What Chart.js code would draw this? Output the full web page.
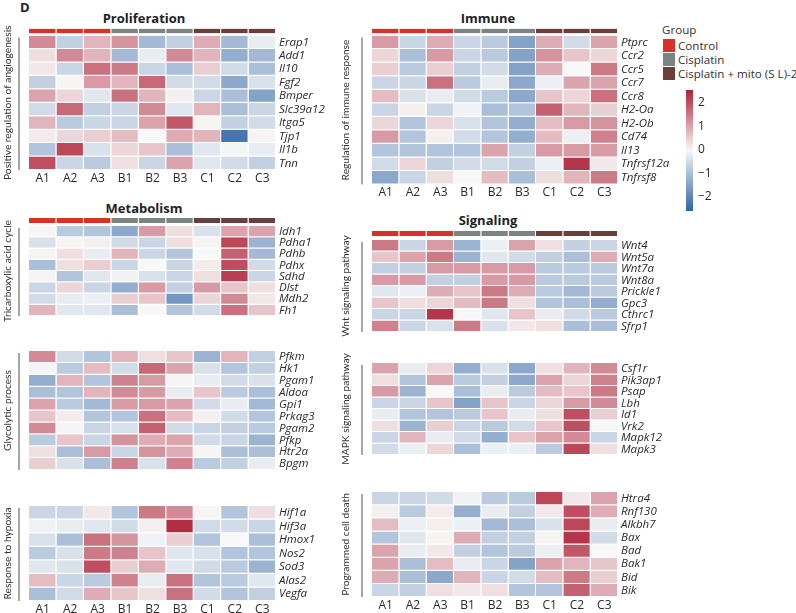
<!DOCTYPE html>
<html>
<head>
<meta charset="utf-8">
<script src="https://cdn.jsdelivr.net/npm/chart.js@4.4.1/dist/chart.umd.min.js"></script>
<style>
  html, body { margin: 0; padding: 0; background: #fff; }
  #fig { position: relative; width: 796px; height: 613px; overflow: hidden; font-family: "Open Sans", sans-serif; color: #222; }
  #fig canvas { position: absolute; left: 0; top: 0; }
  .t { position: absolute; white-space: nowrap; line-height: 1; }
  .title { font-weight: 700; font-size: 13px; transform: translate(-50%, -50%); }
  .leg { font-size: 11.6px; color: #333; }
  .sq { position: absolute; width: 12px; height: 13px; }
</style>
</head>
<body>
<div id="fig">
  <div class="t" style="left:20px;top:1px;font-weight:700;font-size:13px;">D</div>
  <div class="t title" style="left:144px;top:18px;">Proliferation</div>
  <div class="t title" style="left:488px;top:18px;">Immune</div>
  <div class="t title" style="left:144px;top:208px;">Metabolism</div>
  <div class="t title" style="left:488px;top:220px;">Signaling</div>
  <div id="legend"></div>
</div>
<script>
// ── Data ──
const samples = ['A1', 'A2', 'A3', 'B1', 'B2', 'B3', 'C1', 'C2', 'C3'];
const groupNames = ['Control', 'Cisplatin', 'Cisplatin + mito (S L)-2'];
const sampleGroup = [0, 0, 0, 1, 1, 1, 2, 2, 2];
const groupColors = ['#d8312b', '#7c8482', '#6a3f3a'];
const zMin = -2.6, zMax = 2.55;
const barTicks = [-2, -1, 0, 1, 2];

const prolifGenes = ['Erap1', 'Add1', 'Il10', 'Fgf2', 'Bmper', 'Slc39a12', 'Itga5', 'Tjp1', 'Il1b', 'Tnn'];
const prolifZ = [
  [1.3, -0.7, 0.8, 1.2, -1.1, -0.7, 0.9, -1.1, -0.2],
  [0.3, 1.3, 0.8, -1.1, -0.2, 1.3, 0.8, -1.3, -1.1],
  [0.2, -0.6, 1.6, 1.5, -0.6, -1.0, 0.5, -0.5, -1.0],
  [-0.7, 0.05, 1.1, 0.8, 1.7, -0.5, -0.5, -1.4, -0.4],
  [1.0, 0.4, -0.3, 1.6, 0.8, 0.1, -0.6, -1.0, -1.5],
  [-0.5, 1.7, -0.7, -0.6, 1.3, -0.3, 0.8, -1.0, -0.6],
  [0.8, -0.8, -0.6, -0.6, 1.0, 1.9, 0.05, -0.7, -0.5],
  [0.15, 0.4, 0.5, 0.7, 0.0, 0.9, 0.8, -2.3, 0.05],
  [-0.9, 2.1, -0.4, 0.4, 0.6, -1.0, -0.3, -0.05, -0.2],
  [2.0, -0.6, -0.8, 0.3, -0.6, 1.0, -0.3, -0.5, -0.7],
];

const immuneGenes = ['Ptprc', 'Ccr2', 'Ccr5', 'Ccr7', 'Ccr8', 'H2-Oa', 'H2-Ob', 'Cd74', 'Il13', 'Tnfrsf12a', 'Tnfrsf8'];
const immuneZ = [
  [1.1, -0.6, 0.9, -0.6, -0.8, -1.5, 0.9, -0.5, 1.0],
  [0.4, -1.0, 1.1, -0.6, -0.8, -1.5, 1.2, 0.6, 0.4],
  [0.5, -0.8, 0.5, -0.7, -0.5, -1.5, 0.9, 0.0, 1.5],
  [-0.6, -0.6, 1.6, -0.8, -0.2, -1.4, -0.15, 1.0, 1.0],
  [0.7, -0.4, -0.2, -0.5, -0.8, -1.4, 0.6, 0.4, 1.6],
  [-0.6, 0.1, -0.6, -0.1, -1.0, -0.9, 1.8, 0.8, 0.5],
  [0.4, -0.9, 0.4, -0.4, -0.9, -1.3, 0.7, 1.1, 1.2],
  [1.1, -0.9, 0.1, -0.5, -0.9, -1.3, 0.7, -0.15, 1.4],
  [-0.9, -0.9, -0.9, -0.9, 1.0, -0.7, 1.1, 1.1, 1.1],
  [-0.5, 0.4, -0.7, -0.5, -0.5, -0.7, -0.15, 2.3, 0.2],
  [-1.4, -0.6, 0.3, 0.0, 0.7, -1.0, 0.3, 0.8, 1.5],
];

const tcaGenes = ['Idh1', 'Pdha1', 'Pdhb', 'Pdhx', 'Sdhd', 'Dlst', 'Mdh2', 'Fh1'];
const tcaZ = [
  [0.05, -0.8, -0.9, -1.4, 1.1, 0.3, -0.4, 1.0, 1.0],
  [-0.4, 0.05, 0.1, -0.5, -0.6, 0.3, 0.05, 2.1, -1.2],
  [0.05, 0.3, -0.2, 0.8, -0.6, -0.9, 0.0, 1.8, -1.1],
  [-1.0, 0.3, 0.5, -0.6, 0.0, -0.6, 0.15, 2.0, -0.5],
  [0.05, -0.9, -0.3, -0.1, -0.4, -0.6, 0.3, 2.2, -0.6],
  [-0.6, 0.4, -0.6, -1.3, 1.1, -0.7, 1.1, 0.6, 0.3],
  [-0.5, -0.2, -0.15, 0.5, 0.6, -1.7, 0.4, 1.3, 0.2],
  [0.8, -0.3, -0.3, -1.0, 0.0, -0.9, -0.5, 1.6, 0.6],
];

const glycGenes = ['Pfkm', 'Hk1', 'Pgam1', 'Aldoa', 'Gpi1', 'Prkag3', 'Pgam2', 'Pfkp', 'Htr2a', 'Bpgm'];
const glycZ = [
  [1.3, -0.5, -0.9, 0.8, 0.3, 0.6, -1.2, 0.8, -0.7],
  [-0.05, -0.8, 0.7, -0.5, 1.7, 1.0, -0.4, -0.9, -0.7],
  [-1.3, 0.8, -0.9, 1.4, 1.1, 0.05, -0.2, -0.5, -0.4],
  [-1.0, -0.9, 0.8, 1.3, 1.1, -0.2, 0.6, -0.8, -1.0],
  [1.0, -0.8, -1.1, 1.1, 1.1, 1.0, -0.5, -0.2, -1.1],
  [0.6, 0.15, -0.9, -0.9, 1.6, 0.7, 0.1, -0.5, -0.9],
  [1.3, -0.05, -0.6, -0.4, 1.8, -0.5, -0.6, -0.7, -0.8],
  [-0.8, 0.6, -0.6, 1.2, 0.9, 1.0, -0.5, -0.6, -1.2],
  [0.3, -1.0, 1.1, -0.6, 1.2, 0.9, 0.05, -1.0, -1.0],
  [0.5, -0.4, -1.0, 1.4, -0.4, 1.4, -0.8, -0.7, -0.2],
];

const hypoxiaGenes = ['Hif1a', 'Hif3a', 'Hmox1', 'Nos2', 'Sod3', 'Alas2', 'Vegfa'];
const hypoxiaZ = [
  [-0.6, -0.6, 0.2, -0.9, 1.5, 1.3, 0.05, -0.9, 0.3],
  [-0.1, -0.2, -0.3, -0.5, 0.1, 2.4, -0.5, -0.5, -0.6],
  [-0.4, -1.0, 1.6, 1.2, -0.1, 0.5, -0.9, 0.0, -1.0],
  [-0.8, -0.4, 1.5, 1.4, 0.6, -0.3, -0.4, -0.9, -0.9],
  [-0.3, -0.4, 2.0, 0.5, 0.9, -0.3, -0.5, -0.8, -1.2],
  [0.7, -0.6, -0.8, 1.4, -0.2, 1.6, -0.9, -0.8, -0.3],
  [-1.0, -0.5, 0.9, 0.6, 0.3, 1.6, -0.5, -0.9, -0.7],
];

const wntGenes = ['Wnt4', 'Wnt5a', 'Wnt7a', 'Wnt8a', 'Prickle1', 'Gpc3', 'Cthrc1', 'Sfrp1'];
const wntZ = [
  [1.5, -0.6, 1.1, -1.2, -0.15, 1.0, 0.3, -0.7, -0.6],
  [0.6, 1.0, 1.5, -1.2, -0.3, -0.5, -0.7, -1.0, 0.9],
  [-0.7, -0.7, 1.1, 1.1, 1.1, 1.1, -0.8, -0.8, -0.8],
  [1.1, 1.1, -0.7, -0.7, 1.1, 1.1, -0.8, -0.8, -0.8],
  [-0.3, -0.15, 0.9, 0.6, 1.5, 0.9, -0.8, -1.1, -0.8],
  [0.6, 0.3, 0.4, 0.7, 1.5, 0.3, -0.9, -1.0, -1.3],
  [-0.6, -0.6, 2.3, 0.0, -0.3, 0.6, -0.2, -0.5, -0.8],
  [1.4, -0.6, -0.4, 1.5, -0.4, 0.2, 0.3, -1.0, -1.0],
];

const mapkGenes = ['Csf1r', 'Pik3ap1', 'Psap', 'Lbh', 'Id1', 'Vrk2', 'Mapk12', 'Mapk3'];
const mapkZ = [
  [1.0, -0.2, 0.4, -1.3, -0.4, -1.4, 0.3, 0.8, 1.3],
  [0.3, -0.9, 1.0, -0.8, -0.7, -1.4, 1.0, 0.4, 1.4],
  [1.1, -1.2, 0.0, -1.0, -0.2, -0.8, 0.7, 0.6, 1.5],
  [-0.6, -0.6, 0.6, -1.5, 0.6, -0.6, 0.4, 1.1, 1.3],
  [-0.2, -0.9, -0.9, -0.8, 0.6, -0.2, 0.3, 2.0, 0.5],
  [0.3, -1.2, 0.5, -0.6, -0.8, -0.5, 0.6, 2.0, 0.0],
  [-0.6, 0.8, -0.2, -0.5, -1.3, 0.6, 1.0, 1.3, -0.6],
  [-0.5, -0.15, 0.4, -1.0, -0.15, -0.15, -0.8, 2.1, 0.3],
];

const deathGenes = ['Htra4', 'Rnf130', 'Alkbh7', 'Bax', 'Bad', 'Bak1', 'Bid', 'Bik'];
const deathZ = [
  [-0.6, -0.6, -0.5, -0.1, -0.8, -0.8, 2.1, 0.2, 1.0],
  [0.1, -0.8, 0.15, -1.3, -0.2, -0.7, 0.2, 2.0, 0.9],
  [0.7, -0.15, 0.1, -0.15, -1.1, -1.0, -0.4, 2.1, -0.2],
  [-0.9, -0.3, 0.05, 0.9, -0.7, -0.7, 0.05, 2.3, -0.5],
  [1.0, -0.2, 0.2, -0.7, -0.9, -0.8, -0.15, 1.9, 0.0],
  [1.0, -1.0, 0.7, -0.2, -0.6, -1.5, 1.0, 0.8, 0.6],
  [0.9, -1.0, -1.4, 0.8, -0.6, -0.5, 0.7, 1.5, 0.5],
  [-0.6, -0.7, 0.3, 0.2, 0.3, -0.9, -0.9, 1.8, 0.9],
];

// ── Setup ──
const W = 796, H = 613;
const fig = document.getElementById('fig');
const fontFamily = '"Open Sans", sans-serif';
const textColor = '#2a2a2a';
const cLow = [47, 100, 166], cMid = [248, 248, 248], cHigh = [174, 33, 55];

function heatColor(v) {
  const t = v >= 0 ? Math.min(v / zMax, 1) : Math.min(v / zMin, 1);
  const end = v >= 0 ? cHigh : cLow;
  const rgb = cMid.map((m, k) => Math.round(m + (end[k] - m) * t));
  return `rgb(${rgb.join(',')})`;
}

function mount(config) {
  const c = document.createElement('canvas');
  c.width = W; c.height = H;
  fig.appendChild(c);
  config.options = Object.assign({ responsive: false, animation: false, devicePixelRatio: 1, events: [] }, config.options);
  return new Chart(c, config);
}

// bracket + rotated category label on the left of a block
const sideLabel = {
  id: 'sideLabel',
  afterDraw(chart, args, o) {
    if (!o || !o.text) return;
    const { ctx, chartArea: a } = chart;
    ctx.save();
    ctx.strokeStyle = '#8a8a8a';
    ctx.lineWidth = 1.5;
    ctx.beginPath();
    ctx.moveTo(a.left - o.line, a.top + 2);
    ctx.lineTo(a.left - o.line, a.bottom);
    ctx.stroke();
    ctx.translate(a.left - o.textX, (a.top + a.bottom) / 2);
    ctx.rotate(-Math.PI / 2);
    ctx.fillStyle = '#333';
    ctx.font = '10.2px Lato, sans-serif';
    ctx.textAlign = 'center';
    ctx.textBaseline = 'middle';
    ctx.fillText(o.text, 0, 0);
    ctx.restore();
  },
};

// ── Heatmap block ──
function heatBlock(genes, z, box, side, showX) {
  const yW = 80, xH = 18;
  return mount({
    type: 'bar',
    data: {
      labels: genes,
      datasets: samples.map((s, j) => ({
        label: s,
        data: genes.map(() => [j, j + 1]),
        backgroundColor: z.map(r => heatColor(r[j])),
        borderColor: '#fff',
        borderWidth: { top: 0, left: 0, right: 1, bottom: 1 },
        borderSkipped: false,
        inflateAmount: 0,
        grouped: false,
        barPercentage: 1,
        categoryPercentage: 1,
      })),
    },
    options: {
      indexAxis: 'y',
      layout: { padding: { left: box[0], right: W - box[1] - yW, top: box[2], bottom: H - box[3] - (showX ? xH : 0) } },
      plugins: { legend: { display: false }, tooltip: { enabled: false }, sideLabel: side },
      scales: {
        x: {
          type: 'linear', min: 0, max: 9, display: showX,
          grid: { display: false, drawTicks: false }, border: { display: false },
          afterBuildTicks: s => { s.ticks = samples.map((_, i) => ({ value: i + 0.5 })); },
          ticks: { callback: (v, i) => samples[i], color: textColor, font: { family: fontFamily, size: 12 }, padding: 1, maxRotation: 0, autoSkip: false },
          afterFit: s => { s.height = xH; s.paddingLeft = 0; s.paddingRight = 0; },
        },
        y: {
          position: 'right', offset: true,
          grid: { display: false, drawTicks: false }, border: { display: false },
          ticks: { color: textColor, font: { family: fontFamily, size: 11.5, style: 'italic' }, padding: 3, autoSkip: false },
          afterFit: s => { s.width = yW; s.paddingTop = 0; s.paddingBottom = 0; },
        },
      },
    },
    plugins: [sideLabel],
  });
}

// ── Group annotation strip ──
function groupBar(x0, x1, y0, y1) {
  return mount({
    type: 'bar',
    data: {
      labels: samples,
      datasets: [{
        data: samples.map(() => 1),
        backgroundColor: sampleGroup.map(g => groupColors[g]),
        borderColor: '#fff',
        borderWidth: { top: 0, bottom: 0, left: 0, right: 1 },
        borderSkipped: false,
        inflateAmount: 0,
        barPercentage: 1,
        categoryPercentage: 1,
      }],
    },
    options: {
      layout: { padding: { left: x0, right: W - x1, top: y0, bottom: H - y1 } },
      plugins: { legend: { display: false }, tooltip: { enabled: false } },
      scales: { x: { display: false }, y: { display: false, min: 0, max: 1 } },
    },
  });
}

// ── Colour scale bar ──
function colorBar() {
  return mount({
    type: 'bar',
    data: {
      labels: ['z'],
      datasets: [{
        data: [[zMin, zMax]],
        backgroundColor: ctx => {
          const a = ctx.chart.chartArea;
          if (!a) return 'transparent';
          const g = ctx.chart.ctx.createLinearGradient(0, a.bottom, 0, a.top);
          for (let k = 0; k <= 20; k++) {
            const v = zMin + (zMax - zMin) * k / 20;
            g.addColorStop(k / 20, heatColor(v));
          }
          return g;
        },
        borderWidth: 0,
        inflateAmount: 0,
        barPercentage: 1,
        categoryPercentage: 1,
      }],
    },
    options: {
      layout: { padding: { left: 686, right: W - 693 - 30, top: 90, bottom: H - 211 } },
      plugins: { legend: { display: false }, tooltip: { enabled: false } },
      scales: {
        x: { display: false },
        y: {
          position: 'right', min: zMin, max: zMax,
          grid: { display: false, drawTicks: false }, border: { display: false },
          afterBuildTicks: s => { s.ticks = barTicks.map(v => ({ value: v })); },
          ticks: { callback: v => (v < 0 ? '\u2212' + Math.abs(v) : String(v)), color: textColor, font: { family: fontFamily, size: 12 }, padding: 5 },
          afterFit: s => { s.width = 30; s.paddingTop = 0; s.paddingBottom = 0; },
        },
      },
    },
  });
}

// ── Build ──
const L = [29, 276], R = [372, 618];
const leftSide = t => ({ text: t, line: 10, textX: 21 });
const rightSide = t => ({ text: t, line: 10, textX: 26 });

groupBar(L[0], L[1], 28.5, 33.5);
groupBar(R[0], R[1], 28.5, 33.5);
groupBar(L[0], L[1], 218, 223);
groupBar(R[0], R[1], 231, 236);

heatBlock(prolifGenes, prolifZ, [L[0], L[1], 35.5, 170], leftSide('Positive regulation of angiogenesis'), true);
heatBlock(tcaGenes, tcaZ, [L[0], L[1], 226, 334], leftSide('Tricarboxylic acid cycle'), false);
heatBlock(glycGenes, glycZ, [L[0], L[1], 351, 488], leftSide('Glycolytic process'), false);
heatBlock(hypoxiaGenes, hypoxiaZ, [L[0], L[1], 506, 601], leftSide('Response to hypoxia'), true);

heatBlock(immuneGenes, immuneZ, [R[0], R[1], 35.5, 184.5], rightSide('Regulation of immune response'), true);
heatBlock(wntGenes, wntZ, [R[0], R[1], 240, 350], rightSide('Wnt signaling pathway'), false);
heatBlock(mapkGenes, mapkZ, [R[0], R[1], 363, 473], rightSide('MAPK signaling pathway'), false);
heatBlock(deathGenes, deathZ, [R[0], R[1], 492, 597], rightSide('Programmed cell death'), true);

colorBar();

// ── Group legend ──
const leg = document.getElementById('legend');
leg.insertAdjacentHTML('beforeend', '<div class="t leg" style="left:662px;top:24px;">Group</div>');
groupNames.forEach((g, i) => {
  const y = 39 + i * 14;
  leg.insertAdjacentHTML('beforeend',
    `<div class="sq" style="left:663px;top:${y}px;background:${groupColors[i]}"></div>` +
    `<div class="t leg" style="left:678px;top:${y + 1}px;">${g}</div>`);
});
</script>
</body>
</html>
